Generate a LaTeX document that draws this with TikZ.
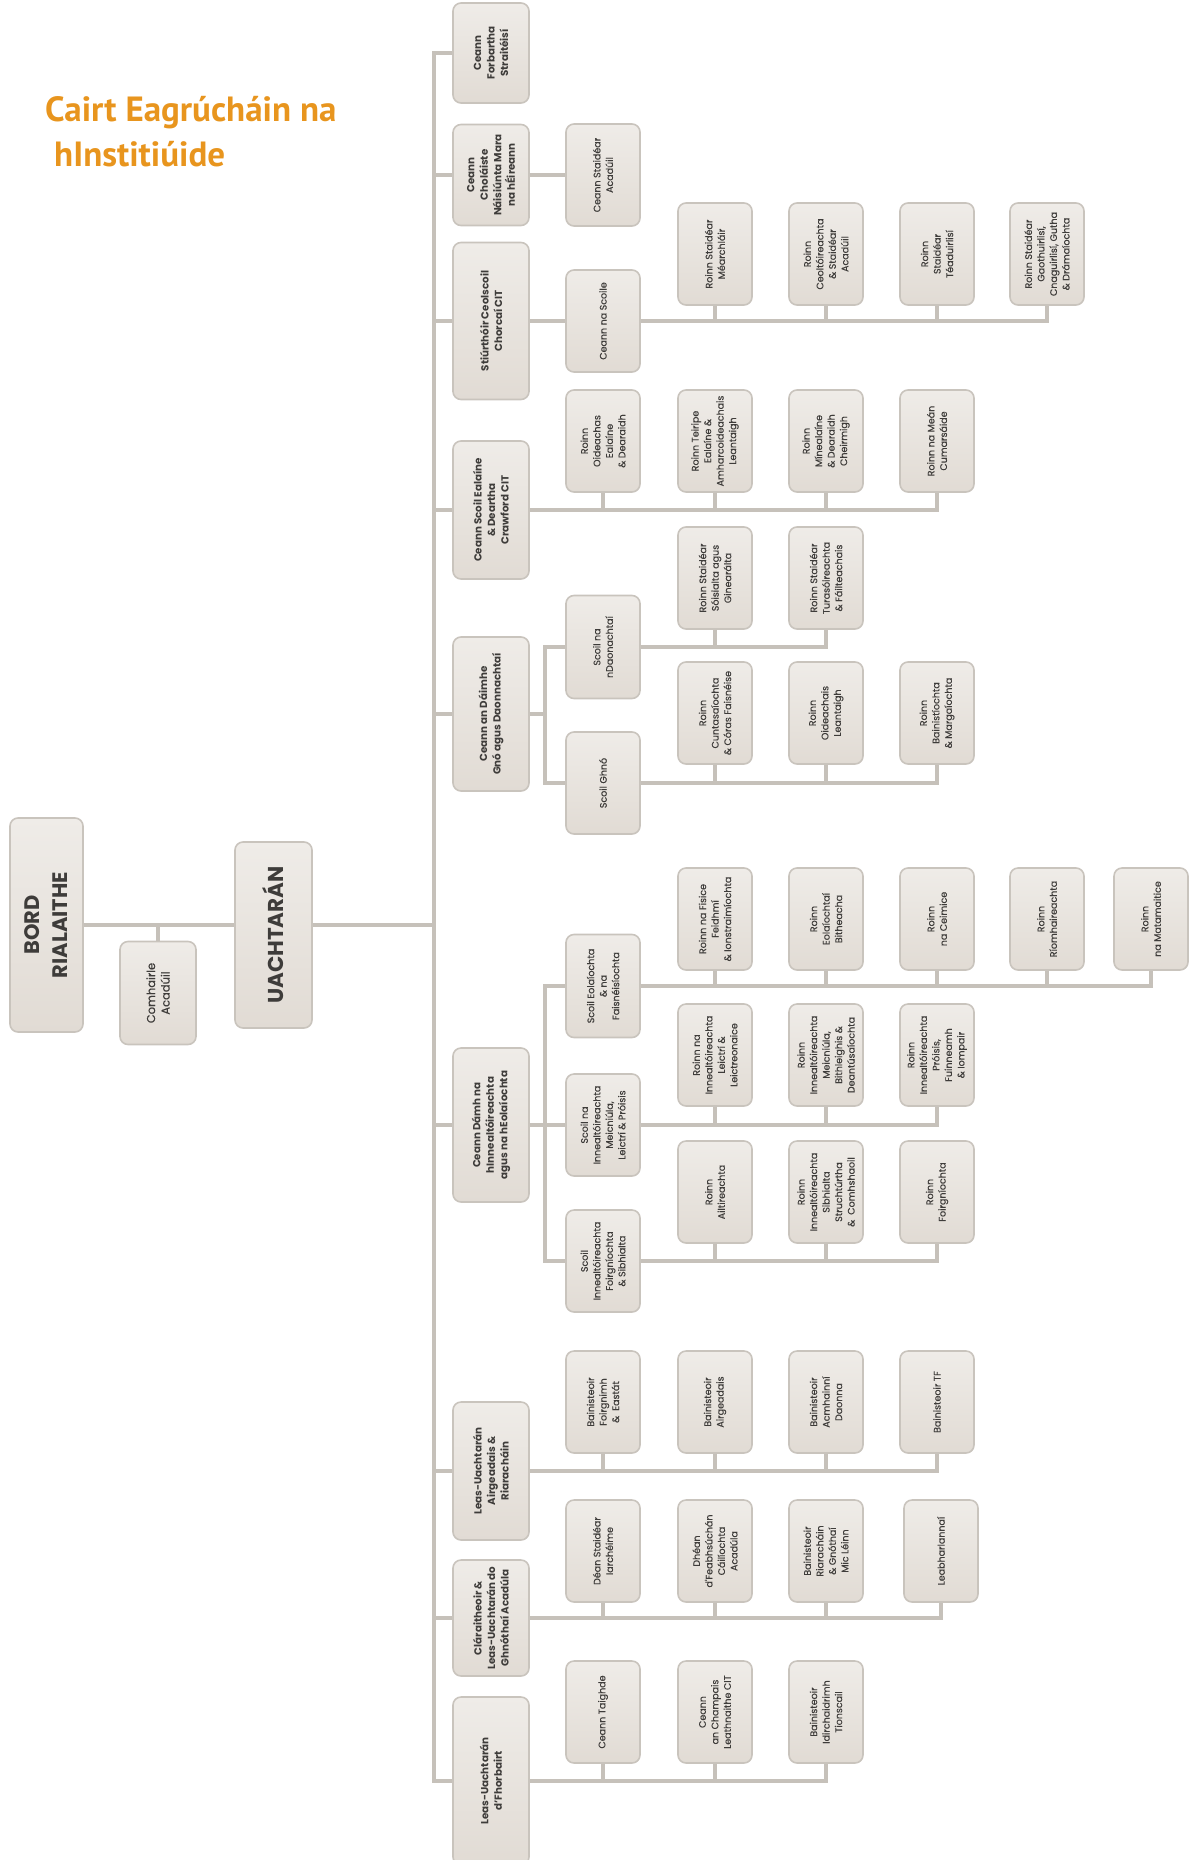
\documentclass[tikz,border=0pt]{standalone}
\usepackage{fontspec}
\setmainfont{Poppins}
\newfontfamily\boitefont{Poppins}[FakeBold=0.35]
\newfontfamily\titrefont{PT Sans}
\usepackage{xcolor}
\definecolor{cTitre}{HTML}{E8951E}
\definecolor{cTrait}{HTML}{C6C1BA}
\definecolor{cCadre}{HTML}{C9C4BD}
\definecolor{cFondA}{HTML}{EFECE8}
\definecolor{cFondB}{HTML}{E1DBD4}
\definecolor{cTexte}{HTML}{3E3C3A}

\begin{document}
\begin{tikzpicture}[x=1pt, y=-1pt,
  boite/.style={rotate=90, draw=cCadre, line width=1.6pt, rounded corners=8pt,
    top color=cFondA, bottom color=cFondB, text=cTexte, align=center,
    font=\boitefont\fontsize{9.5}{12.5}\selectfont, inner sep=2pt,
    minimum width=102pt, minimum height=74pt},
  tete/.style={boite, font=\bfseries\fontsize{10.3}{13.5}\selectfont, minimum height=76pt},
  lien/.style={draw=cTrait, line width=3.6pt, line join=miter}]
  \useasboundingbox (0,0) rectangle (1190,1860);

  % titre
  \node[anchor=base east, font=\titrefont\bfseries\fontsize{35}{45}\selectfont, text=cTitre] (num) at (6,121) {5};
  \node[anchor=base west, align=left, inner sep=0pt, font=\titrefont\bfseries\fontsize{35}{45}\selectfont, text=cTitre] (titre) at (45,166)
    {Cairt Eagrúcháin na\\\hspace{9pt}hInstitiúide};

  % partie gauche
  \node[boite, minimum width=214pt, minimum height=73pt, font=\bfseries\fontsize{21}{28}\selectfont] (bord) at (46.5,925) {BORD\\RIALAITHE};
  \node[boite, minimum width=103pt, minimum height=76pt, font=\boitefont\fontsize{11.5}{14.5}\selectfont] (comh) at (158,993) {Comhairle\\Acadúil};
  \node[boite, minimum width=186pt, minimum height=77pt, font=\bfseries\fontsize{21.5}{28}\selectfont] (uacht) at (273.5,935) {UACHTARÁN};
  \coordinate (tronc) at (434,0);

  % colonne 1
  \node[tete, minimum width=100pt] (A1) at (491,53) {Ceann\\Forbartha\\Straitéisí};
  \node[tete, minimum width=101pt] (B1) at (491,175) {Ceann\\Choláiste\\Náisiúnta Mara\\na hÉireann};
  \node[tete, minimum width=157pt] (C1) at (491,321) {Stiúrthóir Ceolscoil\\Chorcaí CIT};
  \node[tete, minimum width=138pt] (D1) at (491,510) {Ceann Scoil Ealaíne\\\& Deartha\\Crawford CIT};
  \node[tete, minimum width=154pt] (E1) at (491,714) {Ceann an Dáimhe\\Gnó agus Daonnachtaí};
  \node[tete, minimum width=154pt] (F1) at (491,1125) {Ceann Dámh na\\hInnealtóireachta\\agus na hEolaíochta};
  \node[tete, minimum width=138pt] (G1) at (491,1471) {Leas-Uachtarán\\Airgeadais \&\\Riaracháin};
  \node[tete, minimum width=116pt] (H1) at (491,1618) {Cláraitheoir \&\\Leas-Uachtarán do\\Ghnóthaí Acadúla};
  \node[tete, minimum width=168pt] (I1) at (491,1781) {Leas-Uachtarán\\d'Fhorbairt};

  % ligne B
  \node[boite] (B2) at (603,175) {Ceann Staidéar\\Acadúil};

  % ligne C
  \node[boite] (C2) at (603,321) {Ceann na Scoile};
  \node[boite] (C3) at (715,254) {Roinn Staidéar\\Méarchláir};
  \node[boite] (C4) at (826,254) {Roinn\\Ceoltóireachta\\\& Staidéar\\Acadúil};
  \node[boite] (C5) at (937,254) {Roinn\\Staidéar\\Téaduirlisí};
  \node[boite] (C6) at (1047,254) {Roinn Staidéar\\Gaothuirlisí,\\Cnaguirlisí, Gutha\\\& Drámaíochta};

  % ligne D
  \node[boite] (D2) at (603,441) {Roinn\\Oideachas\\Ealaíne\\\& Dearaidh};
  \node[boite] (D3) at (715,441) {Roinn Teiripe\\Ealaíne \&\\Amharcoideachais\\Leantaigh};
  \node[boite] (D4) at (826,441) {Roinn\\Mínealaíne\\\& Dearaidh\\Cheirmigh};
  \node[boite] (D5) at (937,441) {Roinn na Meán\\Cumarsáide};

  % ligne E
  \node[boite, minimum width=103pt] (Ea) at (603,647) {Scoil na\\nDaonachtaí};
  \node[boite] (Ea3) at (715,578) {Roinn Staidéar\\Sóisialta agus\\Ginearálta};
  \node[boite] (Ea4) at (826,578) {Roinn Staidéar\\Turasóireachta\\\& Fáilteachais};
  \node[boite] (Eb) at (603,783) {Scoil Ghnó};
  \node[boite] (Eb3) at (715,713) {Roinn\\Cuntasaíochta\\\& Córas Faisnéise};
  \node[boite] (Eb4) at (826,713) {Roinn\\Oideachais\\Leantaigh};
  \node[boite] (Eb5) at (937,713) {Roinn\\Bainistíochta\\\& Margaíochta};

  % ligne F
  \node[boite, minimum width=103pt] (Fa) at (603,986) {Scoil Eolaíochta\\\& na\\Faisnéisíochta};
  \node[boite] (Fa3) at (715,919) {Roinn na Fisice\\Feidhmí\\\& Ionstraimíochta};
  \node[boite] (Fa4) at (826,919) {Roinn\\Eolaíochtaí\\Bitheacha};
  \node[boite] (Fa5) at (937,919) {Roinn\\na Ceimice};
  \node[boite] (Fa6) at (1047,919) {Roinn\\Ríomhaireachta};
  \node[boite] (Fa7) at (1151,919) {Roinn\\na Matamaitice};
  \node[boite] (Fb) at (603,1125) {Scoil na\\Innealtóireachta\\Meicniúla,\\Leictrí \& Próisis};
  \node[boite] (Fb3) at (715,1055) {Roinn na\\Innealtóireachta\\Leictrí \&\\Leictreonaice};
  \node[boite] (Fb4) at (826,1055) {Roinn\\Innealtóireachta\\Meicniúla,\\Bithleighis \&\\Deantúsaíochta};
  \node[boite] (Fb5) at (937,1055) {Roinn\\Innealtóireachta\\Próisis,\\Fuinneamh\\\& Iompair};
  \node[boite] (Fc) at (603,1261) {Scoil\\Innealtóireachta\\Foirgníochta\\\& Sibhialta};
  \node[boite] (Fc3) at (715,1192) {Roinn\\Ailtireachta};
  \node[boite] (Fc4) at (826,1192) {Roinn\\Innealtóireachta\\Sibhialta\\Struchtúrtha\\\&~~Comhshaoil};
  \node[boite] (Fc5) at (937,1192) {Roinn\\Foirgníochta};

  % ligne G
  \node[boite] (G2) at (603,1402) {Bainisteoir\\Foirgnimh\\\&~~Eastát};
  \node[boite] (G3) at (715,1402) {Bainisteoir\\Airgeadais};
  \node[boite] (G4) at (826,1402) {Bainisteoir\\Acmhainní\\Daonna};
  \node[boite] (G5) at (937,1402) {Bainisteoir TF};

  % ligne H
  \node[boite] (H2) at (603,1551) {Déan Staidéar\\Iarchéime};
  \node[boite] (H3) at (715,1551) {Dhéan\\d'Feabhsúchán\\Cáilíochta\\Acadúla};
  \node[boite] (H4) at (826,1551) {Bainisteoir\\Riaracháin\\\& Gnóthaí\\Mic Léinn};
  \node[boite] (H5) at (941,1551) {Leabharlannaí};

  % ligne I
  \node[boite] (I2) at (603,1712) {Ceann Taighde};
  \node[boite] (I3) at (715,1712) {Ceann\\an Champais\\Leathnaithe CIT};
  \node[boite] (I4) at (826,1712) {Bainisteoir\\Idirchaidrimh\\Tionscail};

  % traits
  \draw[lien] (bord.south) -- (bord.south -| uacht.north);
  \draw[lien] (uacht.south |- bord.south) -- (bord.south -| tronc);
  \draw[lien] (comh.east) -- (comh.east |- bord.south);
  \draw[lien] (A1.north) -- (A1.north -| tronc) -- (I1.north -| tronc) -- (I1.north);
  \draw[lien] (B1.north -| tronc) -- (B1.north) (C1.north -| tronc) -- (C1.north)
    (D1.north -| tronc) -- (D1.north) (E1.north -| tronc) -- (E1.north)
    (F1.north -| tronc) -- (F1.north) (G1.north -| tronc) -- (G1.north)
    (H1.north -| tronc) -- (H1.north);

  \draw[lien] (B1.south) -- (B2.north);

  \draw[lien] (C1.south) -- (C2.north);
  \draw[lien] (C2.south) -- (C2.south -| C6.west) -- (C6.west);
  \draw[lien] (C3.west) -- (C3.west |- C2.south) (C4.west) -- (C4.west |- C2.south) (C5.west) -- (C5.west |- C2.south);

  \draw[lien] (D1.south) -- (D1.south -| D5.west) -- (D5.west);
  \draw[lien] (D2.west) -- (D2.west |- D1.south) (D3.west) -- (D3.west |- D1.south) (D4.west) -- (D4.west |- D1.south);

  \coordinate (sous) at (545,0);
  \draw[lien] (E1.south) -- (E1.south -| sous);
  \draw[lien] (Ea.north) -- (Ea.north -| sous) -- (Eb.north -| sous) -- (Eb.north);
  \draw[lien] (Ea.south) -- (Ea.south -| Ea4.west) -- (Ea4.west);
  \draw[lien] (Ea3.west) -- (Ea3.west |- Ea.south);
  \draw[lien] (Eb.south) -- (Eb.south -| Eb5.west) -- (Eb5.west);
  \draw[lien] (Eb3.west) -- (Eb3.west |- Eb.south) (Eb4.west) -- (Eb4.west |- Eb.south);

  \draw[lien] (F1.south) -- (F1.south -| sous);
  \draw[lien] (Fa.north) -- (Fa.north -| sous) -- (Fc.north -| sous) -- (Fc.north);
  \draw[lien] (Fb.north -| sous) -- (Fb.north);
  \draw[lien] (Fa.south) -- (Fa.south -| Fa7.west) -- (Fa7.west);
  \draw[lien] (Fa3.west) -- (Fa3.west |- Fa.south) (Fa4.west) -- (Fa4.west |- Fa.south)
    (Fa5.west) -- (Fa5.west |- Fa.south) (Fa6.west) -- (Fa6.west |- Fa.south);
  \draw[lien] (Fb.south) -- (Fb.south -| Fb5.west) -- (Fb5.west);
  \draw[lien] (Fb3.west) -- (Fb3.west |- Fb.south) (Fb4.west) -- (Fb4.west |- Fb.south);
  \draw[lien] (Fc.south) -- (Fc.south -| Fc5.west) -- (Fc5.west);
  \draw[lien] (Fc3.west) -- (Fc3.west |- Fc.south) (Fc4.west) -- (Fc4.west |- Fc.south);

  \draw[lien] (G1.south) -- (G1.south -| G5.west) -- (G5.west);
  \draw[lien] (G2.west) -- (G2.west |- G1.south) (G3.west) -- (G3.west |- G1.south) (G4.west) -- (G4.west |- G1.south);

  \draw[lien] (H1.south) -- (H1.south -| H5.west) -- (H5.west);
  \draw[lien] (H2.west) -- (H2.west |- H1.south) (H3.west) -- (H3.west |- H1.south) (H4.west) -- (H4.west |- H1.south);

  \draw[lien] (I1.south) -- (I1.south -| I4.west) -- (I4.west);
  \draw[lien] (I2.west) -- (I2.west |- I1.south) (I3.west) -- (I3.west |- I1.south);
\end{tikzpicture}
\end{document}
